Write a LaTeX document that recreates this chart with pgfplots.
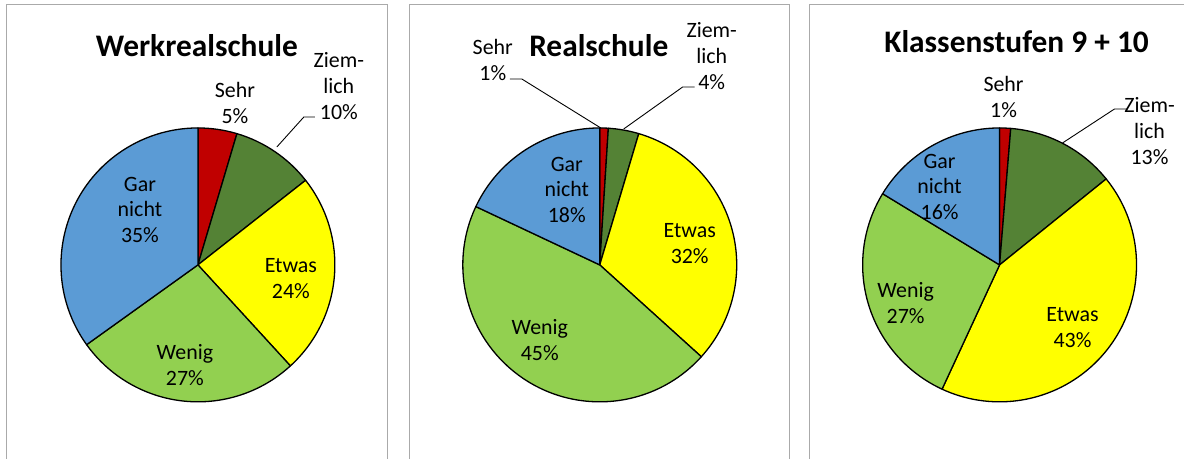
\documentclass[border=0pt]{standalone}
\usepackage{pgfplots}
\pgfplotsset{compat=1.18}
\usepackage{fontspec}
\setmainfont{Carlito}

\definecolor{sehr}{RGB}{192,0,0}
\definecolor{ziem}{RGB}{84,130,53}
\definecolor{etwas}{RGB}{255,255,0}
\definecolor{wenig}{RGB}{146,208,80}
\definecolor{garn}{RGB}{91,155,213}
\definecolor{frame}{RGB}{170,170,170}

% one pie: centre x, centre y (picture pixels), list of value/colour, clockwise from 12 o'clock
\newcommand\pieslices[3]{%
  \xdef\pieang{90}%
  \foreach \v/\c in {#3}{%
    \pgfmathsetmacro\pieend{\pieang-3.6*\v}%
    \filldraw[fill=\c, draw=black, line width=1.3bp, line join=round]
      (axis cs:#1,#2) -- ++(\pieang:137bp)
      arc[start angle=\pieang, end angle=\pieend, radius=137bp] -- cycle;
    \xdef\pieang{\pieend}%
  }%
}

\begin{document}
\begin{tikzpicture}[
  lbl/.style={font=\fontsize{22}{26}\selectfont, align=center, inner sep=0pt},
  ttl/.style={font=\fontsize{31.5}{34}\selectfont\bfseries, inner sep=0pt},
  ldr/.style={black, line width=0.9bp}]
\begin{axis}[
    width=1184bp, height=459bp, scale only axis,
    xmin=0, xmax=1184, ymin=0, ymax=459, y dir=reverse,
    hide axis, clip=false]
\pgfplotsextra{
  \path (axis cs:0,0) rectangle (axis cs:1184,459);
  % panel frames
  \draw[frame, line width=1bp] (axis cs:7,459) -- (axis cs:7,5) -- (axis cs:388,5) -- (axis cs:388,459);
  \draw[frame, line width=1bp] (axis cs:410,459) -- (axis cs:410,5) -- (axis cs:790,5) -- (axis cs:790,459);
  \draw[frame, line width=1bp] (axis cs:810,459) -- (axis cs:810,5) -- (axis cs:1184,5);

  % Werkrealschule
  \pieslices{198}{265}{4.6/sehr, 9.8/ziem, 23.8/etwas, 26.9/wenig, 34.9/garn}
  \node[ttl] at (axis cs:197,46) {Werkrealschule};
  \node[lbl] at (axis cs:235,103) {Sehr\\5\%};
  \node[lbl] at (axis cs:339,86) {Ziem-\\lich\\10\%};
  \draw[ldr] (axis cs:277,147) -- (axis cs:304,117) -- (axis cs:315,117);
  \node[lbl] at (axis cs:140,210) {Gar\\nicht\\35\%};
  \node[lbl] at (axis cs:291,279) {Etwas\\24\%};
  \node[lbl] at (axis cs:185,365) {Wenig\\27\%};

  % Realschule
  \pieslices{600}{265}{1.0/sehr, 3.6/ziem, 32.1/etwas, 45.3/wenig, 18.0/garn}
  \node[ttl] at (axis cs:599,46) {Realschule};
  \node[lbl] at (axis cs:493,60) {Sehr\\1\%};
  \draw[ldr] (axis cs:510,79) -- (axis cs:522,79) -- (axis cs:601,128);
  \node[lbl] at (axis cs:712,56) {Ziem-\\lich\\4\%};
  \draw[ldr] (axis cs:624,129) -- (axis cs:683,87) -- (axis cs:695,87);
  \node[lbl] at (axis cs:567,190) {Gar\\nicht\\18\%};
  \node[lbl] at (axis cs:690,244) {Etwas\\32\%};
  \node[lbl] at (axis cs:540,340) {Wenig\\45\%};

  % Klassenstufen 9 + 10
  \pieslices{1000}{265}{1.3/sehr, 12.9/ziem, 42.7/etwas, 26.8/wenig, 16.3/garn}
  \node[ttl] at (axis cs:1017,42) {Klassenstufen 9 + 10};
  \node[lbl] at (axis cs:1004,97) {Sehr\\1\%};
  \node[lbl] at (axis cs:1150,131) {Ziem-\\lich\\13\%};
  \draw[ldr] (axis cs:1063,143) -- (axis cs:1115,109) -- (axis cs:1128,109);
  \node[lbl] at (axis cs:940,187) {Gar\\nicht\\16\%};
  \node[lbl] at (axis cs:906,303) {Wenig\\27\%};
  \node[lbl] at (axis cs:1073,328) {Etwas\\43\%};
}
\end{axis}
\end{tikzpicture}
\end{document}
